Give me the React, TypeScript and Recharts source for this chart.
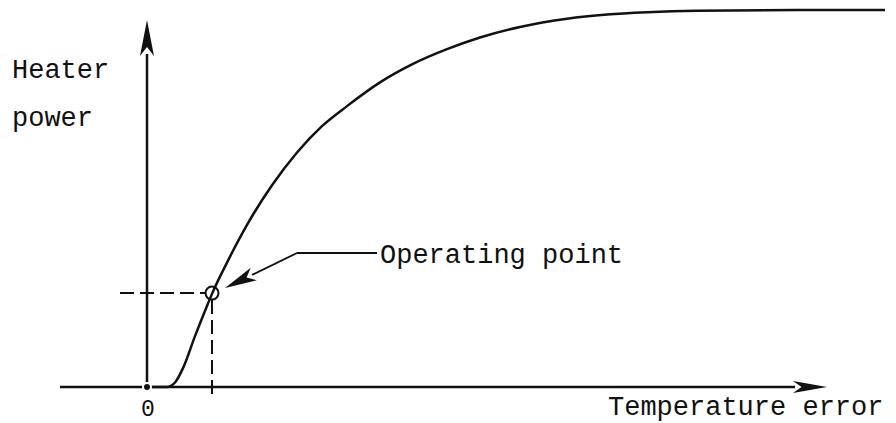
import React from 'react';
import { LineChart, Line, XAxis, YAxis, ReferenceLine, ReferenceDot, Customized } from 'recharts';

// Temperature error (x) and heater power (y, fraction of maximum)
const errorValues = [0, 0.2, 0.28, 0.36, 0.48, 0.6, 0.65, 0.8, 1.0, 1.25, 1.5, 1.75, 2.0, 2.33, 2.66, 3.0, 3.33, 3.73, 4.2, 4.6, 5.0, 5.5, 6.5, 7.38];
const powerValues = [0, 0, 0.012, 0.05, 0.135, 0.215, 0.247, 0.33, 0.43, 0.535, 0.622, 0.692, 0.745, 0.808, 0.857, 0.896, 0.927, 0.955, 0.977, 0.988, 0.994, 0.998, 1.0, 1.0];

const operatingPoint = { x: 0.65, y: 0.249 };
const xAxisExtent = [-0.87, 6.8];
const yAxisTop = 0.9735;
const hDashStart = -0.27;
const vDashEnd = -0.021;
const leaderTip = { x: 0.78, y: 0.2626 };
const leaderElbow = { x: 1.5, y: 0.3554 };
const leaderEnd = { x: 2.3, y: 0.3554 };

const labelOperating = 'Operating point';
const labelYTop = 'Heater';
const labelYBottom = 'power';
const labelX = 'Temperature error';
const labelOrigin = '0';

const data = errorValues.map((x, i) => ({ x, p: powerValues[i] }));

const INK = '#111';
const FONT = '"Liberation Mono", "DejaVu Sans Mono", monospace';

const arrowShape = (len: number, halfW: number, sw: number) => (props: any) => {
  const { x1, y1, x2, y2 } = props;
  const dx = x2 - x1;
  const dy = y2 - y1;
  const d = Math.sqrt(dx * dx + dy * dy) || 1;
  const ux = dx / d;
  const uy = dy / d;
  const bx = x2 - ux * len;
  const by = y2 - uy * len;
  const px = -uy * halfW;
  const py = ux * halfW;
  return (
    <g>
      <line x1={x1} y1={y1} x2={bx + ux * 2} y2={by + uy * 2} stroke={INK} strokeWidth={sw} />
      <polygon points={`${x2},${y2} ${bx + px},${by + py} ${bx + ux * len * 0.25},${by + uy * len * 0.25} ${bx - px},${by - py}`} fill={INK} />
    </g>
  );
};

const Texts = () => (
  <g fontFamily={FONT} fontSize={27} fill={INK}>
    <text x={12} y={78}>{labelYTop}</text>
    <text x={12} y={126}>{labelYBottom}</text>
    <text x={608} y={415}>{labelX}</text>
    <text x={148} y={416} textAnchor="middle" fontSize={23}>{labelOrigin}</text>
  </g>
);

export default function App() {
  return (
    <div style={{ position: 'absolute', left: 0, top: 0, width: 896, height: 423, background: '#fff' }}>
      <LineChart width={896} height={423} data={data} margin={{ top: 0, right: 0, bottom: 0, left: 0 }}>
        <XAxis type="number" dataKey="x" domain={[-1.47, 7.49]} hide allowDataOverflow />
        <YAxis type="number" domain={[-0.0955, 1.0265]} hide allowDataOverflow />
        <ReferenceLine segment={[{ x: xAxisExtent[0], y: 0 }, { x: xAxisExtent[1], y: 0 }]} shape={arrowShape(34, 6, 2.5)} />
        <ReferenceLine segment={[{ x: 0, y: 0 }, { x: 0, y: yAxisTop }]} shape={arrowShape(36, 7, 2.5)} />
        <ReferenceLine segment={[{ x: hDashStart, y: operatingPoint.y }, { x: operatingPoint.x - 0.07, y: operatingPoint.y }]} stroke={INK} strokeWidth={2} strokeDasharray="14 6" />
        <ReferenceLine segment={[{ x: operatingPoint.x, y: operatingPoint.y - 0.018 }, { x: operatingPoint.x, y: vDashEnd }]} stroke={INK} strokeWidth={2} strokeDasharray="14 6" />
        <Line type="monotone" dataKey="p" stroke={INK} strokeWidth={2.5} dot={false} isAnimationActive={false} />
        <ReferenceDot x={operatingPoint.x} y={operatingPoint.y} r={6.5} fill="none" stroke={INK} strokeWidth={2} />
        <ReferenceLine segment={[leaderElbow, leaderEnd]} stroke={INK} strokeWidth={1.8} />
        <ReferenceLine segment={[leaderElbow, leaderTip]} shape={arrowShape(32, 7, 1.8)} />
        <ReferenceDot
          x={leaderEnd.x}
          y={leaderEnd.y}
          r={0}
          label={{ value: labelOperating, position: 'right', offset: 3, fontFamily: FONT, fontSize: 27, fill: INK }}
        />
        <Customized component={Texts} />
      </LineChart>
    </div>
  );
}
